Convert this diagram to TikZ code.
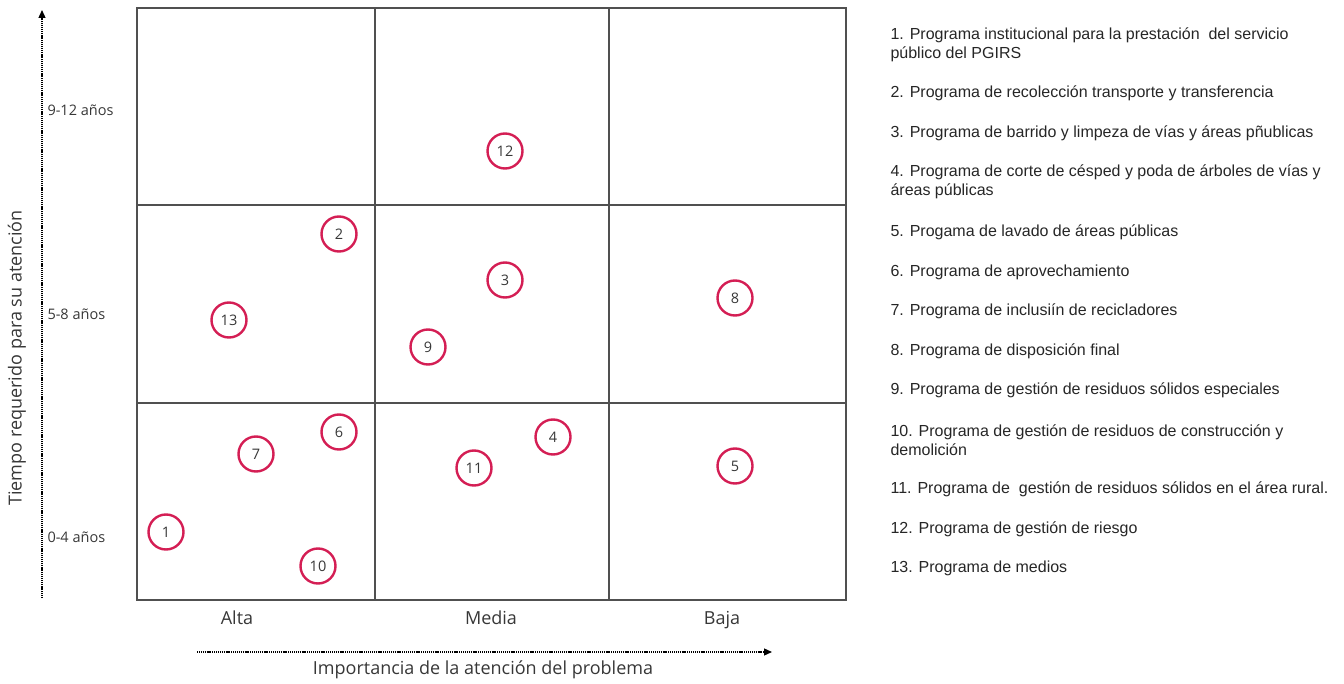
\documentclass[tikz,border=0pt]{standalone}
\usepackage{fontspec}
\setmainfont{Liberation Sans}
\newfontfamily\axisfont{Open Sans}
\usetikzlibrary{positioning, arrows.meta}

\definecolor{progred}{RGB}{212,30,84}
\definecolor{gridgray}{RGB}{80,80,80}
\definecolor{txtgray}{RGB}{55,55,55}

\begin{document}
\begin{tikzpicture}[x=1pt, y=-1pt,
  prog/.style={circle, draw=progred, line width=2.4pt, minimum size=35pt, inner sep=0pt,
    font=\axisfont\fontsize{14.5}{14.5}\selectfont, text=txtgray},
  axislbl/.style={font=\axisfont\fontsize{18}{18}\selectfont, text=txtgray},
  ticklbl/.style={anchor=west, font=\axisfont\fontsize{14.5}{14.5}\selectfont, text=txtgray},
  legend/.style={anchor=west, align=left, font=\fontsize{16}{18.5}\selectfont, text=black!85},
  axisline/.style={line width=1.3pt, dash pattern=on 1.1pt off 0.8pt, -{Triangle[length=8pt,width=7pt]}},
  ]
  \useasboundingbox (0,0) rectangle (1344,684);

  % grid
  \draw[gridgray, line width=1.2pt] (137,8) rectangle (846,600);
  \draw[gridgray, line width=1.2pt] (375,8) -- (375,600) (609,8) -- (609,600)
    (137,205) -- (846,205) (137,403) -- (846,403);

  % axes
  \coordinate (ystart) at (42,598);
  \coordinate (yend) at (42,10);
  \coordinate (xstart) at (197,652);
  \coordinate (xend) at (772,652);
  \draw[axisline] (ystart) -- (yend);
  \draw[axisline] (xstart) -- (xend);

  \node[ticklbl] (t912) at (44,110) {9-12 años};
  \node[ticklbl] (t58) at (44,314) {5-8 años};
  \node[ticklbl] (t04) at (44,537) {0-4 años};
  \node[axislbl, rotate=90] (ylbl) at (17,358) {Tiempo requerido para su atención};

  \node[axislbl, anchor=base] (alta) at (237,624) {Alta};
  \node[axislbl, anchor=base] (media) at (491,624) {Media};
  \node[axislbl, anchor=base] (baja) at (722,624) {Baja};
  \node[axislbl, anchor=base] (xlbl) at (483,674) {Importancia de la atención del problema};

  % programas
  \node[prog] (p12) at (505,151) {12};
  \node[prog] (p2) at (339,234) {2};
  \node[prog] (p3) at (505,280) {3};
  \node[prog] (p8) at (735,298) {8};
  \node[prog] (p13) at (229,320) {13};
  \node[prog] (p9) at (428,347) {9};
  \node[prog] (p6) at (339,432) {6};
  \node[prog] (p4) at (553,437) {4};
  \node[prog] (p7) at (256,454) {7};
  \node[prog] (p11) at (474,468) {11};
  \node[prog] (p5) at (735,466) {5};
  \node[prog] (p1) at (166,532) {1};
  \node[prog] (p10) at (318,566) {10};

  % leyenda
  \node[legend] (l1) at (887,45) {1. Programa institucional para la prestación \ del servicio\\público del PGIRS};
  \node[legend] (l2) at (887,93) {2. Programa de recolección transporte y transferencia};
  \node[legend] (l3) at (887,133) {3. Programa de barrido y limpeza de vías y áreas pñublicas};
  \node[legend] (l4) at (887,182) {4. Programa de corte de césped y poda de árboles de vías y\\áreas públicas};
  \node[legend] (l5) at (887,232) {5. Progama de lavado de áreas públicas};
  \node[legend] (l6) at (887,272) {6. Programa de aprovechamiento};
  \node[legend] (l7) at (887,311) {7. Programa de inclusiín de recicladores};
  \node[legend] (l8) at (887,351) {8. Programa de disposición final};
  \node[legend] (l9) at (887,390) {9. Programa de gestión de residuos sólidos especiales};
  \node[legend] (l10) at (887,440) {10. Programa de gestión de residuos de construcción y\\demolición};
  \node[legend] (l11) at (887,489) {11. Programa de \ gestión de residuos sólidos en el área rural.};
  \node[legend] (l12) at (887,529) {12. Programa de gestión de riesgo};
  \node[legend] (l13) at (887,568) {13. Programa de medios};

\end{tikzpicture}
\end{document}
